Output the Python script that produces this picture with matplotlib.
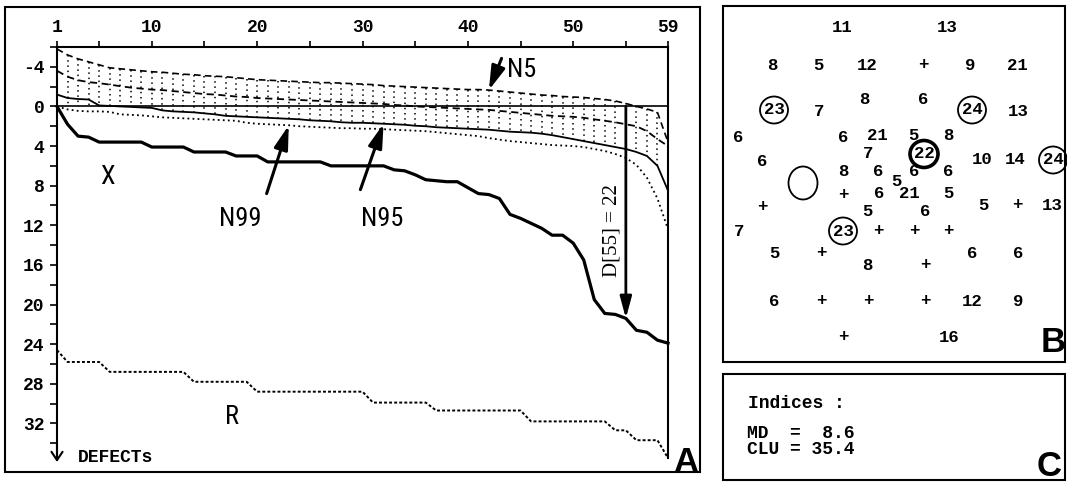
import numpy as np
import matplotlib
matplotlib.use("Agg")
import matplotlib.pyplot as plt
from matplotlib.patches import Rectangle, Ellipse
from matplotlib import font_manager

# ---------------- data : panel A (ranked defect curves) ----------------
rank = list(range(1, 60))
x_curve = [0.0, 1.8, 3.0, 3.1, 3.6, 3.6, 3.6, 3.6, 3.6, 4.1,
           4.1, 4.1, 4.1, 4.6, 4.6, 4.6, 4.6, 5.0, 5.0, 5.0,
           5.6, 5.6, 5.6, 5.6, 5.6, 5.6, 6.0, 6.0, 6.0, 6.0,
           6.0, 6.0, 6.4, 6.5, 6.9, 7.4, 7.5, 7.6, 7.6, 8.2,
           8.8, 8.9, 9.3, 10.9, 11.3, 11.8, 12.3, 13.0, 13.0, 13.8,
           15.5, 19.5, 20.9, 21.0, 21.4, 22.6, 22.8, 23.6, 23.9]
r_curve = [24.6, 25.8, 25.8, 25.8, 25.8, 26.8, 26.8, 26.8, 26.8, 26.8,
           26.8, 26.8, 26.8, 27.8, 27.8, 27.8, 27.8, 27.8, 27.8, 28.8,
           28.8, 28.8, 28.8, 28.8, 28.8, 28.8, 28.8, 28.8, 28.8, 28.8,
           29.9, 29.9, 29.9, 29.9, 29.9, 29.9, 30.7, 30.7, 30.7, 30.7,
           30.7, 30.7, 30.7, 30.7, 30.7, 31.8, 31.8, 31.8, 31.8, 31.8,
           31.8, 31.8, 31.8, 32.7, 32.7, 33.7, 33.7, 33.7, 35.5]
n95_curve = [-1.2, -0.85, -0.75, -0.7, -0.1, -0.05, 0.0, 0.05, 0.1, 0.15,
             0.4, 0.5, 0.55, 0.6, 0.7, 0.8, 0.95, 1.0, 1.05, 1.1,
             1.15, 1.2, 1.25, 1.3, 1.4, 1.45, 1.5, 1.6, 1.65, 1.65,
             1.7, 1.75, 1.8, 1.85, 1.95, 2.0, 2.1, 2.15, 2.2, 2.25,
             2.3, 2.35, 2.45, 2.55, 2.6, 2.65, 2.75, 2.9, 3.1, 3.3,
             3.5, 3.7, 3.9, 4.1, 4.3, 4.6, 5.0, 6.0, 8.5]
n99_curve = [0.0, 0.3, 0.45, 0.5, 0.5, 0.55, 0.8, 0.85, 0.9, 1.0,
             1.1, 1.15, 1.2, 1.25, 1.3, 1.35, 1.4, 1.45, 1.65, 1.75,
             1.8, 1.85, 1.9, 2.0, 2.05, 2.1, 2.15, 2.2, 2.2, 2.25,
             2.25, 2.3, 2.35, 2.4, 2.45, 2.5, 2.6, 2.7, 2.8, 2.9,
             3.0, 3.2, 3.35, 3.5, 3.6, 3.7, 3.8, 3.9, 3.95, 4.0,
             4.1, 4.3, 4.5, 4.8, 5.2, 5.9, 7.2, 9.3, 12.4]
n5_curve = [-5.8, -5.2, -4.8, -4.5, -4.2, -3.9, -3.8, -3.7, -3.6, -3.5,
            -3.45, -3.35, -3.25, -3.2, -3.1, -3.05, -3.0, -2.9, -2.8, -2.7,
            -2.65, -2.6, -2.55, -2.5, -2.45, -2.4, -2.4, -2.35, -2.3, -2.25,
            -2.2, -2.1, -2.05, -2.0, -1.95, -1.9, -1.85, -1.8, -1.75, -1.7,
            -1.7, -1.65, -1.55, -1.45, -1.35, -1.25, -1.15, -1.1, -1.0, -0.95,
            -0.9, -0.8, -0.7, -0.55, -0.3, 0.0, 0.25, 0.6, 3.6]
nmid_curve = [-3.6, -3.0, -2.65, -2.45, -2.35, -2.2, -2.05, -1.9, -1.8, -1.7,
              -1.65, -1.55, -1.45, -1.35, -1.25, -1.2, -1.1, -1.0, -0.95, -0.85,
              -0.8, -0.75, -0.7, -0.65, -0.6, -0.55, -0.5, -0.45, -0.4, -0.35,
              -0.3, -0.25, -0.15, -0.1, 0.0, 0.05, 0.1, 0.15, 0.2, 0.25,
              0.3, 0.35, 0.45, 0.55, 0.65, 0.75, 0.85, 0.95, 1.0, 1.05,
              1.15, 1.3, 1.45, 1.6, 1.8, 2.0, 2.5, 3.3, 4.0]
top_ticks = [1, 5, 10, 15, 20, 25, 30, 35, 40, 45, 50, 55, 59]
top_ticklabels = ["1", "", "10", "", "20", "", "30", "", "40", "", "50", "", "59"]
left_ticks = list(range(-6, 35, 2))
left_ticklabels = [str(v) if (v % 4 == 0) else "" for v in left_ticks]
d_rank = 55
d_label = "D[55] = 22"

# ---------------- data : panel B (visual field values) ----------------
vf_x = [842, 947,
        772, 818, 867, 923, 970, 1017,
        774, 819, 864, 923, 972, 1018,
        738, 843, 877, 913, 948,
        762, 868, 924, 982, 1015, 1053,
        843, 878, 914, 948,
        896,
        843, 879, 909, 948,
        762, 867, 925, 983, 1017, 1052,
        739, 843, 878, 914, 948,
        774, 821, 867, 925, 972, 1018,
        774, 821, 868, 925, 972, 1018,
        843, 949]
vf_y = [28, 28,
        65, 65, 65, 65, 65, 65,
        110, 112, 100, 100, 110, 112,
        137, 137, 135, 135, 135,
        161, 154, 154, 160, 160, 160,
        172, 172, 171, 171,
        182,
        195, 193, 193, 193,
        206, 211, 211, 205, 205, 205,
        231, 231, 231, 231, 231,
        253, 253, 265, 265, 253, 253,
        301, 301, 301, 301, 301, 301,
        337, 337]
vf_val = ['11', '13',
          '8', '5', '12', '+', '9', '21',
          '23', '7', '8', '6', '24', '13',
          '6', '6', '21', '5', '8',
          '6', '7', '22', '10', '14', '24',
          '8', '6', '6', '6',
          '5',
          '+', '6', '21', '5',
          '+', '5', '6', '5', '+', '13',
          '7', '23', '+', '+', '+',
          '5', '+', '8', '+', '6', '6',
          '6', '+', '+', '+', '12', '9',
          '+', '16']
circle_threshold = 22
fovea_index = 21

# ---------------- data : panel C ----------------
md_value = 8.6
clu_value = 35.4

# ---------------- figure ----------------
plt.rcParams['axes.unicode_minus'] = False
W, H = 1067, 482
fig = plt.figure(figsize=(W / 100, H / 100), dpi=100)
fig.patch.set_facecolor('white')

installed = {f.name for f in font_manager.fontManager.ttflist}
narrow_candidates = ['Roboto Condensed', 'Liberation Sans Narrow', 'DejaVu Sans Condensed',
                     'Open Sans Condensed', 'Noto Sans Display']
NARROW = [f for f in narrow_candidates if f in installed] + ['Liberation Sans', 'DejaVu Sans']
MONO = ['Liberation Mono', 'DejaVu Sans Mono']
SERIF = ['Liberation Serif', 'DejaVu Serif']
SANS = ['Liberation Sans', 'DejaVu Sans']
mono_kw = dict(family=MONO, fontweight='bold', fontsize=13, color='k')

# overlay in pixel coordinates for panel frames, B and C
ov = fig.add_axes([0, 0, 1, 1])
ov.set_xlim(0, W)
ov.set_ylim(H, 0)
ov.axis('off')
for (x0, y0, x1, y1) in [(5, 7, 700, 472), (723, 6, 1065, 362), (723, 374, 1065, 480)]:
    ov.add_patch(Rectangle((x0, y0), x1 - x0, y1 - y0, fill=False, lw=1.5, ec='k'))

# ---------------- panel A ----------------
ax = fig.add_axes([57 / W, 1 - 463 / H, 611 / W, 416 / H])
ax.set_xlim(1, 59)
ax.set_ylim(36, -6)
ax.patch.set_alpha(0)
ax.spines['bottom'].set_visible(False)
for s in ['top', 'left', 'right']:
    ax.spines[s].set_linewidth(1.5)
ax.spines['left'].set_bounds(-6, 35.6)
ax.spines['right'].set_bounds(-6, r_curve[-1])

ax.xaxis.tick_top()
ax.set_xticks(top_ticks)
ax.set_xticklabels(top_ticklabels)
ax.set_yticks(left_ticks)
ax.set_yticklabels(left_ticklabels)
ax.tick_params(axis='x', direction='out', length=4, width=1.2, pad=4)
ax.tick_params(axis='y', direction='out', length=5, width=1.2, pad=4, right=False)
for lab in ax.get_xticklabels() + ax.get_yticklabels():
    lab.set_fontfamily(MONO)
    lab.set_fontweight('bold')
    lab.set_fontsize(13)

n95 = np.array(n95_curve)
ax.vlines(rank[1:-1], n5_curve[1:-1], np.maximum(n95, 0)[1:-1], colors='k',
          lw=1.1, linestyles=[(0, (1, 2.4))])
ax.hlines(0, rank[0], rank[-1], colors='k', lw=1.2)
ax.plot(rank, n5_curve, color='k', lw=1.2, ls=(0, (4, 2.5)), clip_on=False)
ax.plot(rank, nmid_curve, color='k', lw=1.3, ls=(0, (4, 2.5)), clip_on=False)
ax.plot(rank, n95_curve, color='k', lw=1.3, clip_on=False)
ax.plot(rank, n99_curve, color='k', lw=1.3, ls=(0, (1, 1.8)), clip_on=False)
ax.plot(rank, r_curve, color='k', lw=1.4, ls=(0, (1.5, 1.1)), clip_on=False)
ax.plot(rank, x_curve, color='k', lw=2.3, clip_on=False, solid_joinstyle='round')

# down arrow at end of the left axis
ax.annotate('', xy=(1, 35.9), xytext=(1, 34.0),
            arrowprops=dict(arrowstyle='->,head_length=0.6,head_width=0.4',
                            lw=1.5, color='k', mutation_scale=10,
                            shrinkA=0, shrinkB=0), annotation_clip=False)

# D[55] arrow
ax.annotate('', xy=(d_rank, x_curve[d_rank - 1]), xytext=(d_rank, 0),
            arrowprops=dict(arrowstyle='-|>,head_length=1.3,head_width=0.35',
                            lw=2, color='k', mutation_scale=10,
                            shrinkA=0, shrinkB=0))
ax.text(53.7, 12.5, d_label, rotation=90, ha='center', va='center',
        family=SERIF, fontsize=15)

arrow_kw = dict(arrowstyle='-|>,head_length=1.2,head_width=0.35', lw=2.2,
                color='k', mutation_scale=12, shrinkA=0, shrinkB=0)
ax.annotate('', xy=(23, n99_curve[22]), xytext=(20.9, 8.8), arrowprops=arrow_kw)
ax.annotate('', xy=(32, n95_curve[31]), xytext=(29.8, 8.4), arrowprops=arrow_kw)
ax.annotate('', xy=(42, n5_curve[41]), xytext=(43.2, -4.85), arrowprops=arrow_kw)

lab_kw = dict(family=NARROW, fontsize=19, ha='center', va='center',
              fontstretch='condensed')
ax.text(5.75, 7.1, 'X', **lab_kw)
ax.text(18.4, 11.4, 'N99', **lab_kw)
ax.text(31.9, 11.4, 'N95', **lab_kw)
ax.text(17.6, 31.4, 'R', **lab_kw)
ax.text(45.1, -3.7, 'N5', **lab_kw)
ax.text(3.0, 35.4, 'DEFECTs', ha='left', va='center', clip_on=False, **mono_kw)

# ---------------- panel B ----------------
vf_kw = dict(mono_kw, fontsize=12.5)
for i, (x, y, v) in enumerate(zip(vf_x, vf_y, vf_val)):
    ov.text(x, y, v, ha='center', va='center', **vf_kw)
    if v != '+' and int(v) >= circle_threshold:
        ov.add_patch(Ellipse((x, y), 28, 27, fill=False, ec='k',
                             lw=2.6 if i == fovea_index else 1.3))
ov.add_patch(Ellipse((803, 183), 29, 33, fill=False, ec='k', lw=1.3))

# ---------------- panel C ----------------
ov.text(748, 403, 'Indices :', ha='left', va='center', **mono_kw)
ov.text(747, 434, f'MD  = {md_value:>4}', ha='left', va='center', **mono_kw)
ov.text(747, 449, f'CLU = {clu_value:>4}', ha='left', va='center', **mono_kw)

# panel letters
let_kw = dict(family=SANS, fontweight='bold', fontsize=25, ha='center', va='center')
ov.text(686, 462, 'A', **let_kw)
ov.text(1053, 342, 'B', **let_kw)
ov.text(1049, 466, 'C', **let_kw)

fig.savefig('out.png', dpi=100)
